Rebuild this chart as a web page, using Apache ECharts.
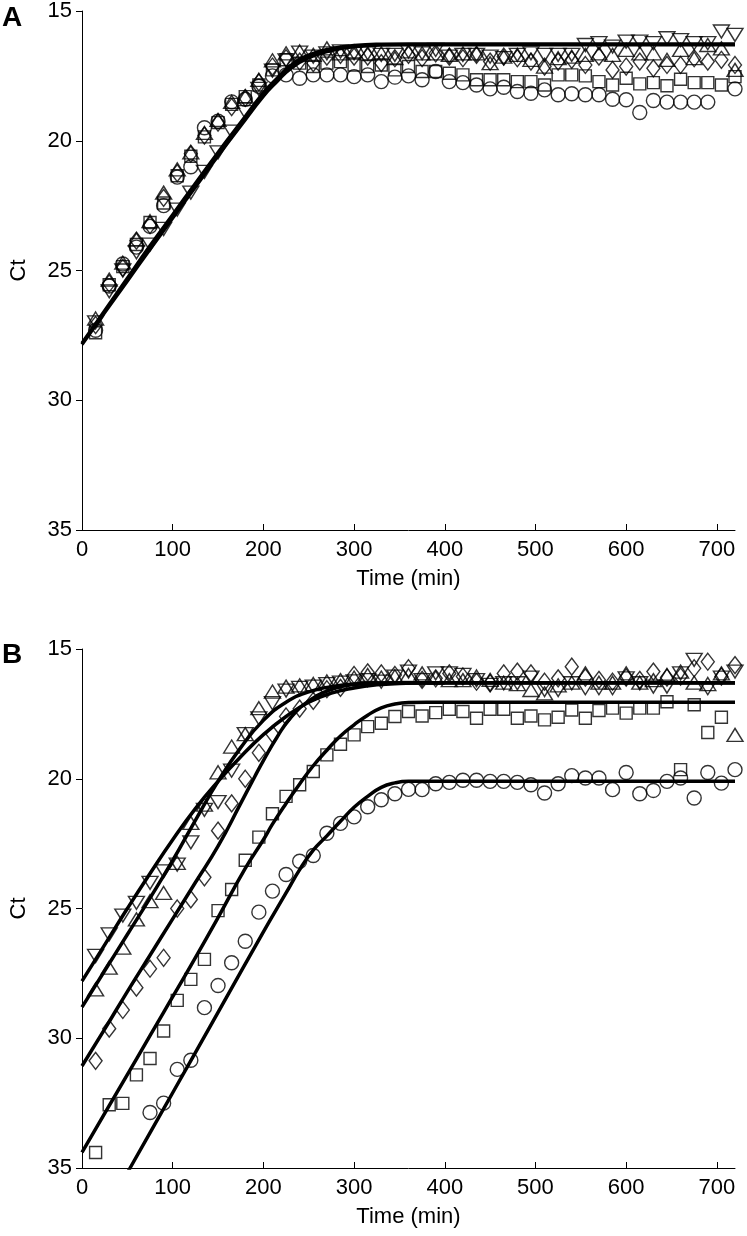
<!DOCTYPE html>
<html><head><meta charset="utf-8">
<script src="https://cdn.jsdelivr.net/npm/echarts@6/dist/echarts.min.js"></script>
<style>html,body{margin:0;padding:0;background:#fff}#c{width:747px;height:1236px}</style>
</head><body><div id="c"></div>
<script>
// ---- sampling times (min) ----
const times = [15,30,45,60,75,90,105,120,135,150,165,180,195,210,225,240,255,270,285,300,315,330,345,360,375,390,405,420,435,450,465,480,495,510,525,540,555,570,585,600,615,630,645,660,675,690,705,720];
const xTickValues = [0,100,200,300,400,500,600,700];
const yTickValues = [15,20,25,30,35];

// ---- Panel A markers (Ct) ----
const aCircle = [27.3,25.6,24.75,24.1,23.3,22.5,21.4,21.0,19.5,19.25,18.5,18.4,17.9,17.5,17.46,17.59,17.46,17.46,17.46,17.53,17.46,17.72,17.55,17.5,17.65,17.33,17.72,17.76,17.85,18.0,17.94,18.1,18.17,18.04,18.23,18.19,18.23,18.23,18.4,18.42,18.91,18.45,18.51,18.51,18.51,18.51,null,18.0];
const aSquare = [27.4,25.55,24.85,24.0,23.15,22.4,21.35,20.6,19.85,19.3,18.6,18.3,17.85,17.27,16.88,17.01,17.14,17.01,16.95,17.08,17.14,17.08,17.27,17.14,17.33,17.33,17.4,17.46,17.65,17.65,17.65,17.72,17.72,17.85,17.46,17.46,17.5,17.72,17.85,17.59,17.81,17.76,17.88,17.63,17.76,17.76,17.85,17.53];
const aDiamond = [27.1,25.5,24.9,23.85,23.25,22.2,21.25,20.5,19.8,19.3,18.7,18.35,17.75,17.14,16.82,16.95,17.01,16.76,16.69,16.76,16.76,17.01,16.82,16.69,16.82,16.63,16.76,16.82,16.69,16.95,16.76,16.82,16.95,17.14,16.95,16.88,17.08,16.76,17.27,17.14,16.95,17.21,17.08,17.08,16.82,16.95,16.88,17.08];
const aTriUp = [26.85,25.35,24.7,23.8,23.1,22.0,21.1,20.45,19.7,19.2,18.5,18.3,17.65,16.9,16.63,16.56,16.69,16.44,16.63,16.56,16.63,16.63,16.82,16.56,16.63,16.63,16.69,16.63,16.63,17.01,16.76,16.69,16.88,17.14,16.82,16.76,16.69,16.63,16.69,16.5,16.63,16.63,16.88,16.5,16.82,16.31,16.44,17.27];
const aTriDown = [27.0,25.8,25.0,24.3,24.0,23.4,22.65,22.0,21.2,20.45,19.65,18.9,18.0,17.3,16.9,16.6,16.76,16.63,16.56,16.63,16.63,16.69,16.69,16.56,16.63,16.5,16.76,16.69,16.69,16.76,16.82,16.69,16.63,16.69,16.69,16.69,16.31,16.24,16.37,16.18,16.18,16.24,16.05,16.12,16.24,16.24,15.79,15.92];

// ---- Panel A fitted curves ----
const aFitTimes = [0,25,50,75,100,125,150,175,200,215,230,250,275,300,330,360,720];
const aFit1 = [27.8,26.55,25.3,24.05,22.85,21.65,20.45,19.3,18.15,17.6,17.1,16.7,16.45,16.33,16.28,16.27,16.27];
const aFit2 = [27.85,26.62,25.4,24.18,22.98,21.78,20.58,19.42,18.28,17.72,17.22,16.8,16.52,16.38,16.31,16.3,16.3];

// ---- Panel B markers (Ct) ----
const bCircle = [null,null,null,null,32.86,32.5,31.2,30.85,28.82,27.97,27.09,26.26,25.14,24.33,23.69,23.18,22.96,22.1,21.72,21.47,21.08,20.81,20.58,20.41,20.42,20.19,20.14,20.06,20.06,20.1,20.1,20.14,20.23,20.55,20.19,19.88,19.97,19.97,20.42,19.76,20.58,20.45,20.1,19.97,20.74,19.76,20.17,19.65];
const bSquare = [34.4,32.56,32.51,31.41,30.78,29.72,28.54,27.73,26.96,25.08,24.27,23.14,22.25,21.35,20.68,20.23,19.72,19.08,18.67,18.31,17.99,17.86,17.6,17.41,17.58,17.45,17.32,17.41,17.67,17.32,17.32,17.67,17.58,17.73,17.63,17.35,17.67,17.37,17.28,17.47,17.28,17.28,17.03,19.65,17.15,18.22,17.63,null];
const bDiamond = [30.87,29.63,28.91,28.05,27.32,26.9,25.0,24.65,23.8,22.0,20.95,20.0,19.0,18.28,17.6,17.3,17.0,16.55,16.5,16.0,15.9,15.94,16.0,15.74,16.19,16.13,15.94,16.06,16.26,16.32,15.94,15.87,15.94,16.26,16.13,15.68,16.1,16.19,16.26,16.1,16.19,15.87,16.1,16.06,15.74,15.49,16.06,15.62];
const bTriUp = [28.12,27.28,26.51,25.42,24.72,24.4,23.24,21.7,21.0,19.75,18.76,18.28,17.28,16.64,16.45,16.4,16.35,16.25,16.2,16.1,16.0,16.1,16.05,16.0,15.94,16.1,16.2,16.2,16.06,16.19,16.3,16.35,16.58,16.71,16.4,16.3,15.94,16.3,16.3,15.94,16.3,16.2,16.0,15.87,16.3,16.35,15.94,18.31];
const bTriDown = [26.83,26.0,25.27,24.78,24.01,23.57,23.31,22.45,21.2,20.9,19.69,18.28,17.67,17.09,16.6,16.5,16.45,16.35,16.3,16.25,16.2,16.26,16.06,15.87,16.2,15.94,15.94,16.0,16.2,16.38,16.32,16.32,16.1,16.58,16.58,16.32,16.51,16.51,16.51,16.13,16.32,16.45,16.45,15.94,15.42,16.51,16.1,15.87];

// ---- Panel B fitted curves ----
const bFitTriDownT = [0,25,50,75,100,125,150,175,200,225,250,275,300,325,350,400,720];
const bFitTriDown  = [27.8,26.4,25.0,23.65,22.35,21.15,20.1,19.15,18.3,17.6,17.05,16.7,16.5,16.38,16.33,16.3,16.3];
const bFitTriUpT = [0,25,50,75,100,125,150,175,200,225,250,275,300,330,360,720];
const bFitTriUp  = [28.8,27.4,26.0,24.6,23.15,21.6,20.1,18.8,17.75,17.05,16.65,16.45,16.35,16.31,16.3,16.3];
const bFitDiamondT = [0,25,50,75,100,125,150,175,190,200,215,230,250,270,290,310,330,360,720];
const bFitDiamond  = [31.07,29.65,28.2,26.8,25.4,24.0,22.6,20.95,19.95,19.3,18.4,17.65,17.0,16.62,16.42,16.34,16.31,16.3,16.3];
const bFitSquareT = [0,30,60,90,120,150,180,200,210,225,240,255,270,285,300,315,330,345,360,380,720];
const bFitSquare  = [34.4,32.6,30.8,29.0,27.2,25.35,23.45,22.35,21.75,20.95,20.2,19.5,18.9,18.35,17.92,17.55,17.27,17.12,17.06,17.05,17.05];
const bFitCircleT = [38,53,100,150,200,225,240,255,270,285,300,315,330,345,360,380,720];
const bFitCircle  = [35.93,35.0,32.1,29.0,25.9,24.4,23.5,22.75,22.2,21.64,21.1,20.68,20.33,20.16,20.1,20.1,20.1];

const FONT = 'Arial, Helvetica, sans-serif';
const pairs = (xs, ys) => xs.map((x, i) => [x, ys[i]]).filter(p => p[1] !== null && p[1] !== undefined);

const markerStyle = {color: 'rgba(0,0,0,0)', borderColor: '#000', borderWidth: 1.4};
const markers = [
  {key: 'circle', symbol: 'circle', size: 14, rotate: 0},
  {key: 'square', symbol: 'rect', size: 12, rotate: 0},
  {key: 'diamond', symbol: 'diamond', size: [13, 17], rotate: 0},
  {key: 'triUp', symbol: 'triangle', size: [16, 13], rotate: 0},
  {key: 'triDown', symbol: 'triangle', size: [16, 13], rotate: 180}
];
const panelData = [
  {circle: aCircle, square: aSquare, diamond: aDiamond, triUp: aTriUp, triDown: aTriDown},
  {circle: bCircle, square: bSquare, diamond: bDiamond, triUp: bTriUp, triDown: bTriDown}
];
const panelFits = [
  [[aFitTimes, aFit1], [aFitTimes, aFit2]],
  [[bFitTriDownT, bFitTriDown], [bFitTriUpT, bFitTriUp], [bFitDiamondT, bFitDiamond], [bFitSquareT, bFitSquare], [bFitCircleT, bFitCircle]]
];

const series = [];
[0, 1].forEach(p => {
  markers.forEach(m => {
    series.push({
      type: 'scatter', xAxisIndex: p, yAxisIndex: p,
      symbol: m.symbol, symbolSize: m.size, symbolRotate: m.rotate,
      itemStyle: markerStyle, data: pairs(times, panelData[p][m.key]),
      silent: true, z: 2
    });
  });
  panelFits[p].forEach(f => {
    series.push({
      type: 'line', xAxisIndex: p, yAxisIndex: p,
      data: pairs(f[0], f[1]), showSymbol: false, smooth: 0.5,
      lineStyle: {color: '#000', width: 3.5}, clip: true, silent: true, z: 5
    });
  });
});

const makeX = (i) => ({
  type: 'value', gridIndex: i, min: 0, max: 720,
  name: 'Time (min)', nameLocation: 'middle', nameGap: 38,
  nameTextStyle: {fontSize: 22, color: '#000', fontFamily: FONT},
  axisLine: {show: true, lineStyle: {color: '#000', width: 1}},
  axisTick: {show: true, inside: true, length: 6, customValues: xTickValues, lineStyle: {color: '#000', width: 1}},
  axisLabel: {customValues: xTickValues, fontSize: 22, color: '#000', fontFamily: FONT, margin: 9},
  splitLine: {show: false}
});
const makeY = (i) => ({
  type: 'value', gridIndex: i, min: 15, max: 35, interval: 5, inverse: true,
  name: 'Ct', nameLocation: 'middle', nameGap: 52, nameRotate: 90,
  nameTextStyle: {fontSize: 22, color: '#000', fontFamily: FONT},
  axisLine: {show: true, lineStyle: {color: '#000', width: 1}},
  axisTick: {show: true, inside: false, length: 6, customValues: yTickValues, lineStyle: {color: '#000', width: 1}},
  axisLabel: {customValues: yTickValues, fontSize: 22, color: '#000', fontFamily: FONT, margin: 10},
  splitLine: {show: false}
});

const chart = echarts.init(document.getElementById('c'), null, {renderer: 'canvas'});
chart.setOption({
  animation: false,
  backgroundColor: '#fff',
  grid: [
    {left: 75, top: 11, width: 660, height: 519},
    {left: 75, top: 649, width: 660, height: 519}
  ],
  xAxis: [makeX(0), makeX(1)],
  yAxis: [makeY(0), makeY(1)],
  graphic: [
    {type: 'text', left: 2, top: 4, style: {text: 'A', fontSize: 28, fontWeight: 'bold', fontFamily: FONT, fill: '#000'}},
    {type: 'text', left: 2, top: 641, style: {text: 'B', fontSize: 28, fontWeight: 'bold', fontFamily: FONT, fill: '#000'}}
  ],
  series: series
});
</script>
</body></html>
